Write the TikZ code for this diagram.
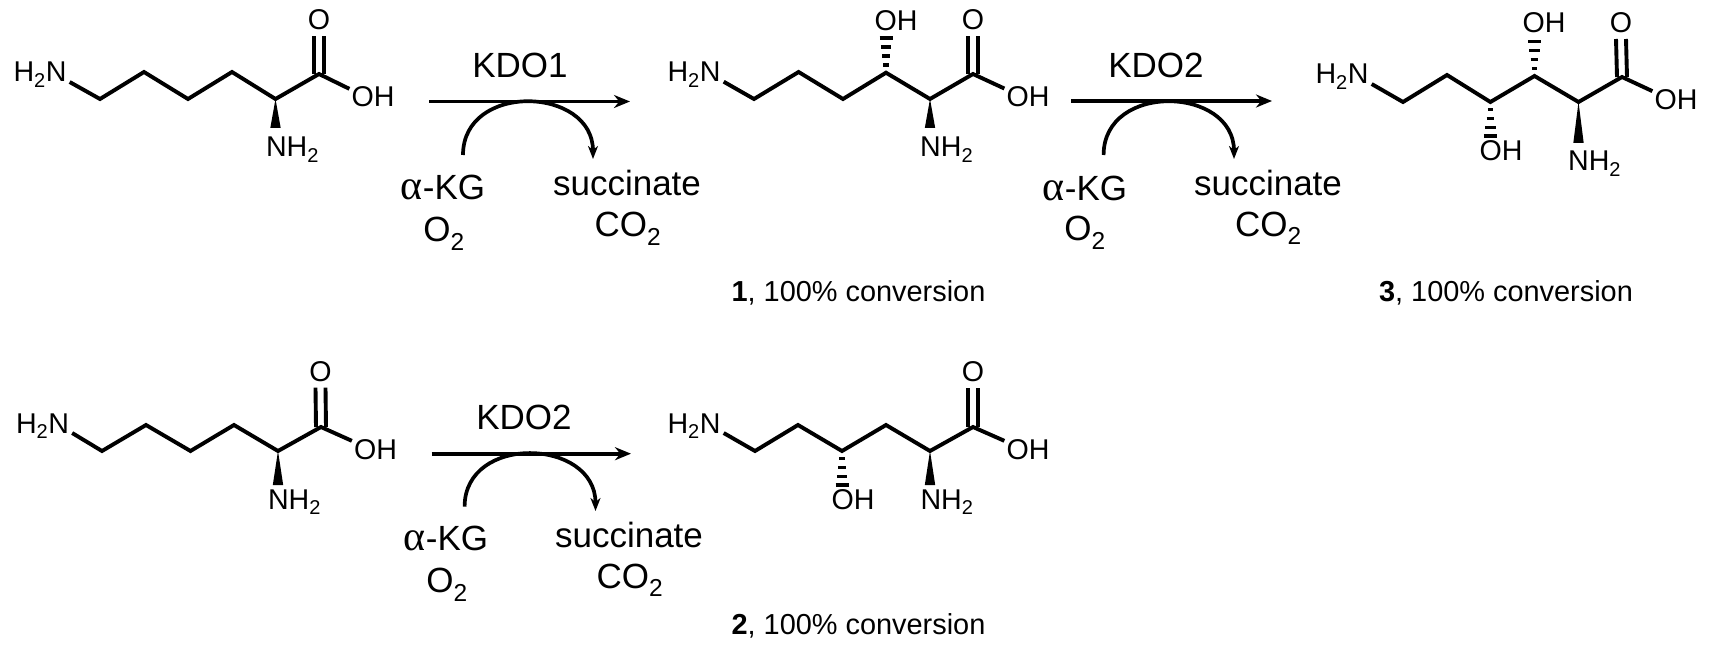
\documentclass[tikz,border=0pt]{standalone}
\usepackage{fontspec}
\setmainfont{Liberation Sans}
\newfontfamily\greekfont[Scale=1.2]{Liberation Serif}
\usetikzlibrary{arrows.meta,calc}
\tikzset{
  atom/.style={inner sep=0pt, anchor=base, font=\fontsize{28.6}{32}\selectfont},
  bigtext/.style={inner sep=0pt, anchor=base, font=\fontsize{35}{38}\selectfont},
  capt/.style={inner sep=0pt, anchor=base, font=\fontsize{28.9}{32}\selectfont},
  bond/.style={line width=3.9pt, line join=miter},
  mainarrow/.style={line width=3.9pt, -{Stealth[length=16pt,width=13pt]}},
  sidearrow/.style={line width=3.7pt, -{Stealth[length=13pt,width=10pt,inset=4pt]}},
}
% hashed bond: bars widen from the carbon #1 to the far end #2
\newcommand{\hashbond}[2]{
  \foreach \t in {0.22,0.48,0.74,1} {
    \pgfmathsetmacro{\w}{1.5+5.0*\t}
    \draw[line width=3.2pt] ($(#1)!\t!(#2)+(-\w,0)$) -- ($(#1)!\t!(#2)+(\w,0)$);
  }
}
% solid wedge from the carbon #1 to the far end #2
\newcommand{\wedgebond}[2]{
  \fill (#1) -- ([xshift=-5.2pt]#2) -- ([xshift=5.2pt]#2) -- cycle;
}
\begin{document}
\begin{tikzpicture}[x=1pt,y=-1pt]
  \useasboundingbox (0,0) rectangle (1716,650);

  % lysine, top left
  \node[atom] (lysAmine) at (40,82) {H\textsubscript{2}N};
  \node[atom] (lysO) at (319,30) {O};
  \node[atom] (lysOH) at (373,107) {OH};
  \node[atom] (lysNH) at (292.5,157) {NH\textsubscript{2}};
  \coordinate (lys1) at (100,99);
  \coordinate (lys2) at (144,72);
  \coordinate (lys3) at (188,99);
  \coordinate (lys4) at (232,72);
  \coordinate (lys5) at (275.5,99);
  \coordinate (lysC) at (319,74);
  \coordinate (lysW) at (275.5,128);
  \draw[bond] ([xshift=3pt]lysAmine.base east) -- (lys1) -- (lys2) -- (lys3) -- (lys4) -- (lys5) -- (lysC) -- ([xshift=-2pt,yshift=-2pt]lysOH.north west);
  \wedgebond{lys5}{lysW}

  % first reaction arrow
  \node[bigtext] (kdoA) at (520,78) {KDO1};
  \coordinate (arrowAs) at (429,101.5);
  \coordinate (arrowAe) at (630,101.5);
  \draw[mainarrow] (arrowAs) -- (arrowAe);
  \coordinate (sideAs) at (463,155);
  \coordinate (sideAe) at (593,159);
  \draw[sidearrow] (sideAs) .. controls +(0,-73) and +(0,-73) .. (sideAe);
  \node[bigtext] (kgA) at (443,199) {{\greekfont α}-KG};
  \node[bigtext] (oxA) at (444,241.7) {O\textsubscript{2}};
  \node[bigtext] (sucA) at (627,195) {succinate};
  \node[bigtext] (coA) at (628,236.7) {CO\textsubscript{2}};

  % product 1
  \node[atom] (oneAmine) at (694,81.7) {H\textsubscript{2}N};
  \node[atom] (oneO) at (973,30) {O};
  \node[atom] (oneOHa) at (896,30.7) {OH};
  \node[atom] (oneOH) at (1028,106.7) {OH};
  \node[atom] (oneNH) at (946.7,156.7) {NH\textsubscript{2}};
  \coordinate (one1) at (754,99);
  \coordinate (one2) at (798.6,72);
  \coordinate (one3) at (843,99);
  \coordinate (one4) at (886,72.7);
  \coordinate (one5) at (930,99);
  \coordinate (oneC) at (973,74);
  \coordinate (oneW) at (930,128);
  \coordinate (oneH) at (886,38);
  \draw[bond] ([xshift=3pt]oneAmine.base east) -- (one1) -- (one2) -- (one3) -- (one4) -- (one5) -- (oneC) -- ([xshift=-2pt,yshift=-2pt]oneOH.north west);
  \wedgebond{one5}{oneW}
  \hashbond{one4}{oneH}
  \node[capt] (oneCapt) at (858.5,301.7) {\textbf{1}, 100\% conversion};

  % second reaction arrow
  \node[bigtext] (kdoB) at (1156,77.5) {KDO2};
  \coordinate (arrowBs) at (1071.4,101);
  \coordinate (arrowBe) at (1272,101);
  \draw[mainarrow] (arrowBs) -- (arrowBe);
  \coordinate (sideBs) at (1103.6,155);
  \coordinate (sideBe) at (1234,159);
  \draw[sidearrow] (sideBs) .. controls +(0,-73) and +(0,-73) .. (sideBe);
  \node[bigtext] (kgB) at (1085,200) {{\greekfont α}-KG};
  \node[bigtext] (oxB) at (1085,240.7) {O\textsubscript{2}};
  \node[bigtext] (sucB) at (1268,195) {succinate};
  \node[bigtext] (coB) at (1268.5,236) {CO\textsubscript{2}};

  % product 3
  \node[atom] (thrAmine) at (1342,84) {H\textsubscript{2}N};
  \node[atom] (thrO) at (1621,33) {O};
  \node[atom] (thrOHa) at (1544,33) {OH};
  \node[atom] (thrOHb) at (1501,160.7) {OH};
  \node[atom] (thrOH) at (1676,109.3) {OH};
  \node[atom] (thrNH) at (1594.6,170.7) {NH\textsubscript{2}};
  \coordinate (thr1) at (1403,102);
  \coordinate (thr2) at (1447,75);
  \coordinate (thr3) at (1490.4,102);
  \coordinate (thr4) at (1534.5,76);
  \coordinate (thr5) at (1578.5,102);
  \coordinate (thrC) at (1622,77);
  \coordinate (thrW) at (1578.5,143);
  \coordinate (thrHa) at (1534.5,41.5);
  \coordinate (thrHb) at (1490.4,136);
  \draw[bond] ([xshift=3pt]thrAmine.base east) -- (thr1) -- (thr2) -- (thr3) -- (thr4) -- (thr5) -- (thrC) -- ([xshift=-2pt,yshift=-2pt]thrOH.north west);
  \wedgebond{thr5}{thrW}
  \hashbond{thr4}{thrHa}
  \hashbond{thr3}{thrHb}
  \node[capt] (thrCapt) at (1506,301.7) {\textbf{3}, 100\% conversion};

  % lysine, bottom left
  \node[atom] (lybAmine) at (42.5,433) {H\textsubscript{2}N};
  \node[atom] (lybO) at (320.5,381.7) {O};
  \node[atom] (lybOH) at (375.5,459) {OH};
  \node[atom] (lybNH) at (294.5,509) {NH\textsubscript{2}};
  \coordinate (lyb1) at (102,451);
  \coordinate (lyb2) at (146,425);
  \coordinate (lyb3) at (190.5,451);
  \coordinate (lyb4) at (234,425);
  \coordinate (lyb5) at (278,451);
  \coordinate (lybC) at (321,427);
  \coordinate (lybW) at (278,485);
  \draw[bond] ([xshift=3pt]lybAmine.base east) -- (lyb1) -- (lyb2) -- (lyb3) -- (lyb4) -- (lyb5) -- (lybC) -- ([xshift=-2pt,yshift=-2pt]lybOH.north west);
  \wedgebond{lyb5}{lybW}

  % third reaction arrow
  \node[bigtext] (kdoC) at (524,429) {KDO2};
  \coordinate (arrowCs) at (431.6,453.7);
  \coordinate (arrowCe) at (631,453.7);
  \draw[mainarrow] (arrowCs) -- (arrowCe);
  \coordinate (sideCs) at (464.6,506.7);
  \coordinate (sideCe) at (595.5,511);
  \draw[sidearrow] (sideCs) .. controls +(0,-73) and +(0,-73) .. (sideCe);
  \node[bigtext] (kgC) at (446,550.7) {{\greekfont α}-KG};
  \node[bigtext] (oxC) at (447,592.7) {O\textsubscript{2}};
  \node[bigtext] (sucC) at (629,547) {succinate};
  \node[bigtext] (coC) at (630,588) {CO\textsubscript{2}};

  % product 2
  \node[atom] (twoAmine) at (694,433) {H\textsubscript{2}N};
  \node[atom] (twoO) at (973,381.7) {O};
  \node[atom] (twoOHb) at (853,509.3) {OH};
  \node[atom] (twoOH) at (1028,459) {OH};
  \node[atom] (twoNH) at (947,509.3) {NH\textsubscript{2}};
  \coordinate (two1) at (755,451);
  \coordinate (two2) at (798,425);
  \coordinate (two3) at (842,451);
  \coordinate (two4) at (886,425);
  \coordinate (two5) at (930,451);
  \coordinate (twoC) at (973,427);
  \coordinate (twoW) at (930,485);
  \coordinate (twoH) at (842,485);
  \draw[bond] ([xshift=3pt]twoAmine.base east) -- (two1) -- (two2) -- (two3) -- (two4) -- (two5) -- (twoC) -- ([xshift=-2pt,yshift=-2pt]twoOH.north west);
  \wedgebond{two5}{twoW}
  \hashbond{two3}{twoH}
  \node[capt] (twoCapt) at (858.5,634) {\textbf{2}, 100\% conversion};

  % C=O of each acid
  \foreach \m in {lys,one,thr,lyb,two} {
    \draw[bond] ([xshift=-5pt]\m C) -- ([xshift=-5pt,yshift=-6pt]\m O.base);
    \draw[bond] ([xshift=5pt]\m C) -- ([xshift=5pt,yshift=-6pt]\m O.base);
  }
\end{tikzpicture}
\end{document}
